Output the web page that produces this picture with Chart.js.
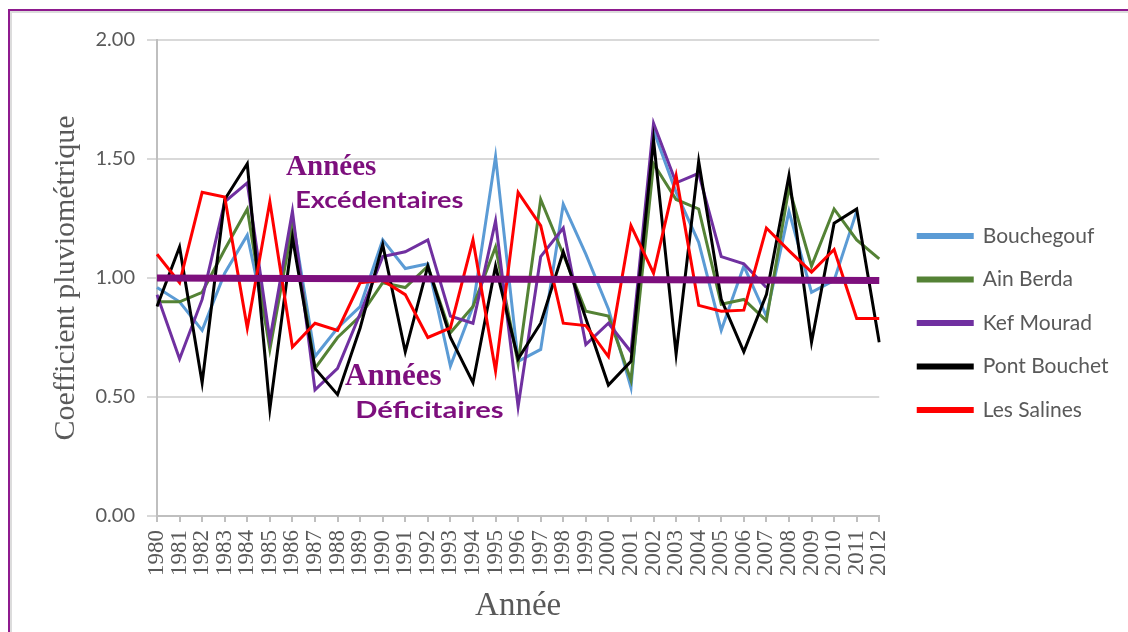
<!DOCTYPE html>
<html>
<head>
<meta charset="utf-8">
<title>Coefficient pluviométrique</title>
<script src="https://cdn.jsdelivr.net/npm/chart.js@4.4.0/dist/chart.umd.min.js"></script>
<style>
  body { margin: 0; background: #fff; }
  #frame {
    position: absolute; left: 8px; top: 9px; width: 1130px; height: 640px;
    border: 2px solid #8e1a8e; box-shadow: inset 2px 2px 0 #dcdcdc;
  }
  #wrap { position: absolute; left: 0; top: 0; width: 1128px; height: 632px; }
</style>
</head>
<body>
<div id="frame"></div>
<div id="wrap"><canvas id="chart" width="1128" height="632"></canvas></div>
<script>
const years = ["1980","1981","1982","1983","1984","1985","1986","1987","1988","1989","1990",
  "1991","1992","1993","1994","1995","1996","1997","1998","1999","2000",
  "2001","2002","2003","2004","2005","2006","2007","2008","2009","2010","2011","2012"];

const bouchegouf = [0.96, 0.90, 0.78, 1.02, 1.18, 0.73, 1.25, 0.67, 0.79, 0.88, 1.16,
  1.04, 1.06, 0.63, 0.88, 1.51, 0.65, 0.70, 1.31, 1.10, 0.87,
  0.54, 1.62, 1.36, 1.15, 0.78, 1.05, 0.84, 1.28, 0.94, 0.99, 1.28, null];

const ainBerda = [0.90, 0.90, 0.94, 1.12, 1.29, 0.70, 1.22, 0.62, 0.75, 0.84, 0.98,
  0.96, 1.05, 0.77, 0.88, 1.13, 0.64, 1.33, 1.10, 0.86, 0.84,
  0.57, 1.48, 1.33, 1.29, 0.89, 0.91, 0.82, 1.38, 1.05, 1.29, 1.16, 1.08];

const kefMourad = [0.93, 0.66, 0.91, 1.32, 1.40, 0.74, 1.28, 0.53, 0.62, 0.85, 1.09,
  1.11, 1.16, 0.84, 0.81, 1.24, 0.46, 1.09, 1.21, 0.72, 0.81,
  0.69, 1.65, 1.40, 1.44, 1.09, 1.06, 0.96, null, null, null, null, null];

const pontBouchet = [0.88, 1.13, 0.56, 1.33, 1.48, 0.45, 1.17, 0.62, 0.51, 0.79, 1.14,
  0.69, 1.05, 0.75, 0.56, 1.05, 0.66, 0.81, 1.11, 0.83, 0.55,
  0.65, 1.58, 0.68, 1.49, 0.91, 0.69, 0.93, 1.43, 0.73, 1.23, 1.29, 0.73];

const lesSalines = [1.10, 0.98, 1.36, 1.34, 0.79, 1.32, 0.71, 0.81, 0.78, 0.98, 0.99,
  0.93, 0.75, 0.79, 1.16, 0.61, 1.36, 1.22, 0.81, 0.80, 0.67,
  1.22, 1.02, 1.43, 0.885, 0.86, 0.865, 1.21, 1.115, 1.025, 1.12, 0.83, 0.83];

// average line (coefficient = 1)
const moyenne = [1.00, null, null, null, null, null, null, null, null, null, null,
  null, null, null, null, null, null, null, null, null, null,
  null, null, null, null, null, null, null, null, null, null, null, 0.99];

const yTicks = [0, 0.5, 1, 1.5, 2];

const purple = "#7d0f7d";
const grey = "#595959";

function serie(label, data, color, order) {
  return {
    label: label,
    data: data,
    borderColor: color,
    backgroundColor: color,
    borderWidth: 3,
    pointRadius: 0,
    tension: 0,
    order: order
  };
}

// text slightly stretched sideways, like the original picture
function stretchText(ctx, text, x, y, sx) {
  ctx.save();
  ctx.translate(x, y);
  ctx.scale(sx, 1);
  ctx.fillText(text, 0, 0);
  ctx.restore();
}

// "Années Excédentaires" / "Années Déficitaires" labels
const annotations = {
  id: "annotations",
  afterDatasetsDraw(chart) {
    const ctx = chart.ctx;
    const x = chart.scales.x;
    const y = chart.scales.y;
    ctx.save();
    ctx.fillStyle = purple;
    ctx.textAlign = "left";
    ctx.textBaseline = "alphabetic";
    ctx.font = "bold 29px 'Liberation Serif'";
    stretchText(ctx, "Années", x.getPixelForValue(5.72), y.getPixelForValue(1.433), 1);
    ctx.font = "bold 23px Lato";
    stretchText(ctx, "Excédentaires", x.getPixelForValue(6.12), y.getPixelForValue(1.294), 1.18);
    ctx.font = "bold 31px 'Liberation Serif'";
    stretchText(ctx, "Années", x.getPixelForValue(8.33), y.getPixelForValue(0.55), 1);
    ctx.font = "bold 23px Lato";
    stretchText(ctx, "Déficitaires", x.getPixelForValue(8.78), y.getPixelForValue(0.41), 1.27);
    ctx.restore();
  }
};

// move the legend a little (left gap and vertical centring of the original)
const legendPlace = {
  id: "legendPlace",
  afterLayout(chart) {
    const lg = chart.legend;
    const pad = lg.options.labels.padding;
    const dx = chart.chartArea.right + 39 - pad - lg.left;
    lg.left += dx;
    lg.right += dx;
    lg.top -= 13;
    lg.bottom -= 13;
  }
};

new Chart(document.getElementById("chart"), {
  type: "line",
  data: {
    labels: years,
    datasets: [
      serie("Bouchegouf", bouchegouf, "#5b9bd5", 6),
      serie("Ain Berda", ainBerda, "#548235", 5),
      serie("Kef Mourad", kefMourad, "#7030a0", 4),
      serie("Pont Bouchet", pontBouchet, "#000000", 3),
      serie("Les Salines", lesSalines, "#ff0000", 2),
      {
        label: "moyenne",
        data: moyenne,
        borderColor: purple,
        backgroundColor: purple,
        borderWidth: 7,
        pointRadius: 0,
        spanGaps: true,
        order: 1
      }
    ]
  },
  options: {
    responsive: false,
    animation: false,
    layout: { padding: { left: 22, top: 40, right: 26, bottom: 0 } },
    plugins: {
      tooltip: { enabled: false },
      legend: {
        position: "right",
        labels: {
          filter: (item) => item.text !== "moyenne",
          sort: (a, b) => a.datasetIndex - b.datasetIndex,
          boxWidth: 54,
          boxHeight: 3,
          padding: 22.5,
          color: grey,
          font: { family: "Lato", size: 21 }
        }
      }
    },
    scales: {
      x: {
        offset: false,
        afterFit: (scale) => { scale.height = 116; },
        grid: { drawOnChartArea: false, drawTicks: true, tickLength: 6, color: "#bfbfbf", lineWidth: 2 },
        border: { color: "#bfbfbf", width: 2 },
        ticks: {
          minRotation: 90, maxRotation: 90, autoSkip: false, padding: 8,
          color: grey, font: { family: "Liberation Serif", size: 23 }
        },
        title: {
          display: true, text: "Année", color: grey,
          font: { family: "Liberation Serif", size: 33 }, padding: { top: 0, bottom: 6 }
        }
      },
      y: {
        min: 0, max: 2,
        afterBuildTicks: (scale) => { scale.ticks = yTicks.map(v => ({ value: v })); },
        afterFit: (scale) => { scale.width = 135; },
        grid: { color: "#d9d9d9", lineWidth: 2, tickLength: 10 },
        border: { color: "#bfbfbf", width: 2 },
        ticks: {
          padding: 12, color: grey, font: { family: "Lato", size: 20 },
          callback: (v) => v.toFixed(2)
        },
        title: {
          display: true, text: "Coefficient pluviométrique", color: grey,
          font: { family: "Liberation Serif", size: 30 }, padding: { top: 26, bottom: 0 }
        }
      }
    }
  },
  plugins: [annotations, legendPlace]
});
</script>
</body>
</html>
